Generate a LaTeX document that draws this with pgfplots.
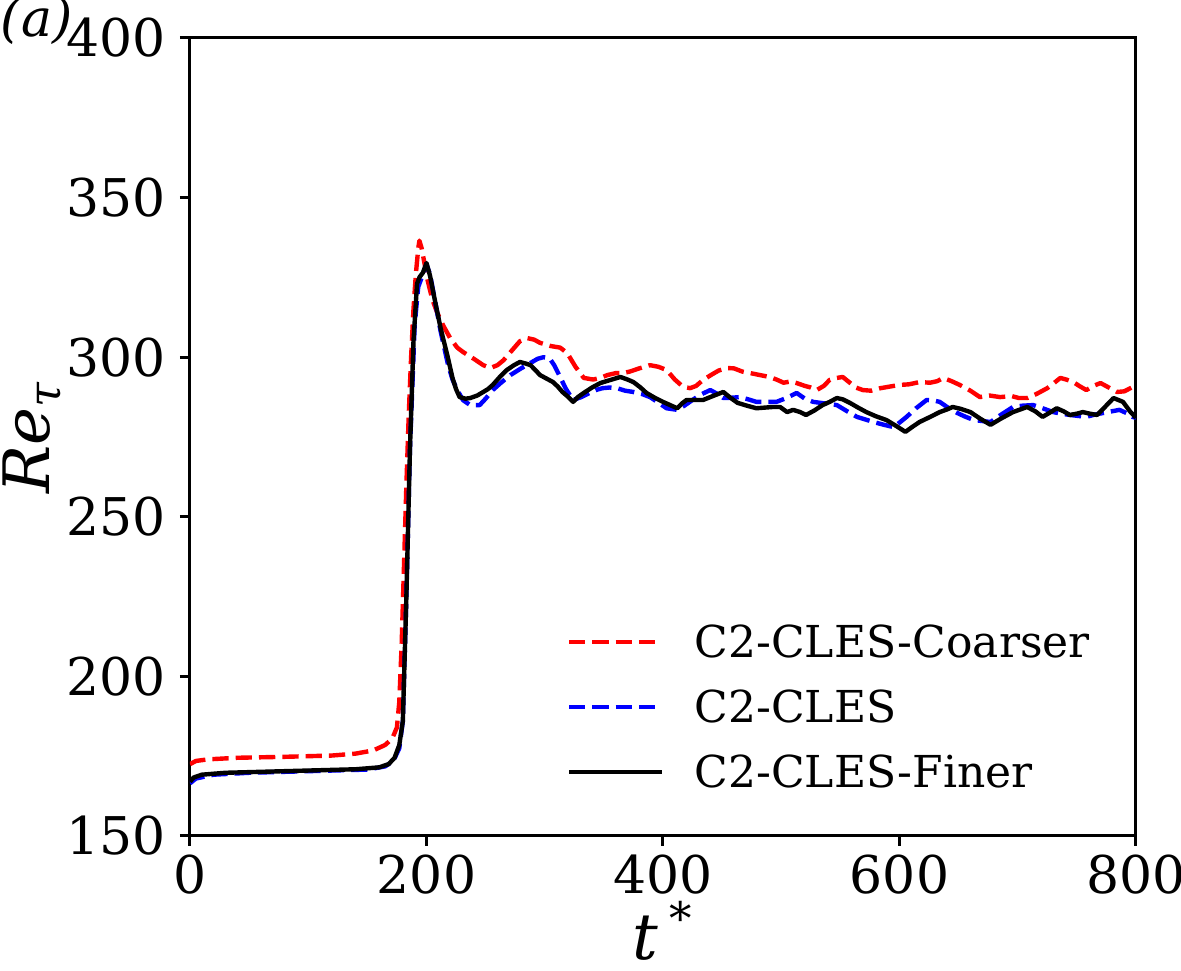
\documentclass[border=0pt]{standalone}
\usepackage{pgfplots}
\pgfplotsset{compat=1.18}
\usepackage{fontspec}
\setmainfont{DejaVuSerif}[Extension=.ttf, UprightFont=*, ItalicFont=*-Italic, BoldFont=*-Bold, BoldItalicFont=*-BoldItalic]

\pgfplotstableread{
t Re
0 172.5
5 173.5
15 174
40 174.5
80 174.8
120 175.2
140 175.8
155 176.8
165 178.5
171 180.5
175 184
177 192
179 210
181 235
183 260
185 282
187 300
189 315
191 326
193 334
194 336.5
196 334
198 330
201 324
205 318
209 314
214 310
220 306
226 303
231 301.6
240 299.5
248 297.5
254 296.6
260 297.5
265 299
272 302
279 305
285 306
291 305.5
296 304.5
305 303.5
313 303
319 301.3
326 297
333 293.5
341 293
347 293.5
353 294.4
360 295
366 295
372 295.5
380 296.5
389 297.5
396 297
403 296
410 293
417 290.7
423 290.3
428 291
434 292.9
441 294.5
447 295.8
454 296.6
460 296.5
467 295.5
474 295
482 294.4
490 293.8
496 293
502 292
508 292.4
513 291.9
520 291
525 290.5
530 289.7
536 291
541 292.9
547 293.5
552 293.8
558 292
563 290.5
569 289.7
576 289.5
584 290.3
592 290.8
600 291.3
608 291.5
617 292.2
626 292
632 292.5
637 293.5
644 292.5
651 291.3
660 289.5
668 287.5
676 288
685 287.5
695 287.8
701 287.2
708 287.2
716 288.5
725 290.3
731 292
736 293.5
741 293
747 292.2
752 291
758 289.7
764 291
770 291.9
777 290.5
784 289.1
790 289.3
797 290.6
800 291.5
}\coarser

\pgfplotstableread{
t Re
0 166.5
5 168
20 169.2
50 169.8
100 170.3
150 170.8
165 171.8
172 173.5
177 177.5
180 186
183 225
186 271
190 310
193 322
197 326
200 329
203 326
207 318
212 308
218 298
222 293
226 289.7
231 286.5
237 285
245 285
250 287
256 289.7
263 292
271 294.4
280 296.5
288 298.2
294 299.5
299 300
304 299.7
308 297.5
313 293.8
318 290
324 286.6
331 287.5
338 288.8
344 289.8
349 290.3
355 290.5
361 290.3
368 289.5
375 289.1
382 288.5
389 287.5
396 285.8
403 284
412 283.5
418 284.8
425 286.6
432 288.3
440 289.7
446 288.5
451 287.2
458 287.3
465 287.5
472 286.8
479 286
488 286
496 286
505 287.3
513 288.8
520 287
527 286
537 285.5
547 285
556 283
564 281.3
571 280.5
578 279.7
587 278.8
595 278.1
600 279.5
606 281.3
614 284
623 286.6
628 286.5
634 286
641 284.2
649 282.5
656 281.3
663 280.3
670 280
677 279.7
686 282
696 284.4
704 284.8
713 285
721 284
730 282.8
737 282.3
744 281.9
751 281.6
758 281.3
765 282
772 282.5
779 283
786 283.5
792 282.5
797 281.3
800 281
}\medium

\pgfplotstableread{
t Re
0 167
3 168.3
10 169.2
30 169.8
60 170.1
100 170.5
140 170.9
160 171.5
168 172.5
173 174.5
177 178.5
180 186
183 225
186 271
189 305
192 323
194 325
197 326.5
200 329.5
203 325.5
207 318
212 309
218 300
222 293.5
225 290
228 287.5
233 287
237 287.2
243 288
248 289.1
252 290
256 291.3
262 293.8
268 296
274 297.5
279 298.5
284 298
288 297.5
292 296
296 294.4
302 293.2
307 292.2
311 290.8
315 289.1
320 287.5
324 286
328 287.5
333 288.8
340 290.5
347 291.9
355 292.8
364 293.8
370 293
375 292.2
381 290.5
386 288.8
393 287.3
400 286
406 285
412 284
416 285.5
420 286.6
427 286.6
434 286.6
442 287.8
451 289.1
457 287.3
463 285.7
471 284.8
479 284
486 284.2
493 284.4
499 284.4
505 282.8
510 283.5
516 282.8
521 281.9
528 283.3
535 285
541 286
547 287.2
552 286.8
558 285.7
565 284.2
572 282.8
580 281.5
589 280.3
597 278.5
605 276.6
611 278.2
617 279.7
626 281.3
634 282.8
640 283.6
645 284.4
652 283.8
660 282.8
668 280.8
677 278.8
686 280.8
696 282.8
702 283.6
708 284.4
715 283
721 281.3
727 282.6
733 284
739 283
744 281.9
750 282.3
755 282.8
761 282.3
767 281.9
774 284.5
781 287.2
785 286.6
789 286
795 283
800 281
}\finer

\begin{document}
\begin{tikzpicture}
\begin{axis}[
    name=ax,
    scale only axis,
    width=236.5pt, height=199.5pt,
    xmin=0, xmax=800, ymin=150, ymax=400,
    xtick={0,200,...,800}, ytick={150,200,...,400},
    tick pos=left, tick align=outside, major tick length=2.5pt,
    axis line style={line width=0.75pt},
    every tick/.style={black, line width=0.75pt},
    tick label style={font=\fontsize{13}{15}\selectfont},
    xticklabel style={inner sep=2pt},
    /pgf/number format/assume math mode=true,
    xlabel={\textit{t}\,\textsuperscript{*}},
    ylabel={\textit{Re}\textsubscript{\textit{τ}}},
    xlabel style={font=\fontsize{16}{19}\selectfont, inner sep=0pt, at={(axis description cs:0.5,0)}, anchor=base, yshift=-31pt},
    ylabel style={font=\fontsize{16}{19}\selectfont, at={(axis description cs:-0.148,0.5)}, anchor=base},
    legend image code/.code={\draw[#1] (0pt,0pt) -- (23.25pt,0pt);},
    legend style={draw=none, fill=none, at={(rel axis cs:0.3975,0.2644)}, anchor=north west,
        font=\fontsize{11}{13}\selectfont, row sep=8.25pt, column sep=7.6pt, inner sep=0pt,
        nodes={inner sep=0pt, text height=8pt, text depth=0pt}},
    legend cell align=left,
]
\addplot[red, line width=1.1pt, dash pattern=on 4.07pt off 1.76pt, line join=round] table[x=t, y=Re] {\coarser};
\addlegendentry{C2-CLES-Coarser}
\addplot[blue, line width=1.1pt, dash pattern=on 4.07pt off 1.76pt, line join=round] table[x=t, y=Re] {\medium};
\addlegendentry{C2-CLES}
\addplot[black, line width=1.1pt, line join=round] table[x=t, y=Re] {\finer};
\addlegendentry{C2-CLES-Finer}
\end{axis}
\node[anchor=base west, font=\fontsize{13}{15}\selectfont, inner sep=0pt] at ([xshift=-47.5pt, yshift=0.3pt]ax.north west) {\textit{(a)}};
\pgfresetboundingbox
\path[use as bounding box] ([xshift=-47.5pt, yshift=-33.75pt]ax.south west) rectangle ([xshift=247.75pt, yshift=209pt]ax.south west);
\end{tikzpicture}
\end{document}
